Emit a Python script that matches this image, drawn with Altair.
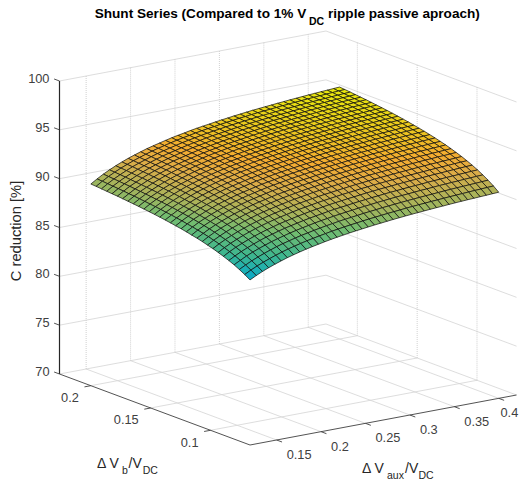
import altair as alt

VAUX = [0.120, 0.127, 0.134, 0.141, 0.148, 0.155, 0.162, 0.169, 0.176, 0.183, 0.190, 0.197, 0.204, 0.211,
        0.218, 0.225, 0.232, 0.239, 0.246, 0.253, 0.260, 0.267, 0.274, 0.281, 0.288, 0.295, 0.302, 0.309,
        0.316, 0.323, 0.330, 0.337, 0.344, 0.351, 0.358, 0.365, 0.372, 0.379, 0.386, 0.393, 0.400]
VB = [0.0670, 0.0714, 0.0759, 0.0803, 0.0847, 0.0892, 0.0936, 0.0980, 0.1025, 0.1069, 0.1113, 0.1158, 0.1202,
      0.1246, 0.1291, 0.1335, 0.1379, 0.1424, 0.1468, 0.1512, 0.1557, 0.1601, 0.1645, 0.1690, 0.1734, 0.1778,
      0.1823, 0.1867, 0.1911, 0.1956, 0.2000]
Z = [
    [86.90,87.23,87.53,87.79,88.03,88.25,88.46,88.64,88.81,88.97,89.11,89.24,89.37,89.49,89.60,89.70,89.80,89.89,89.97,90.05,90.13,90.20,90.27,90.34,90.40,90.46,90.52,90.57,90.62,90.67,90.72,90.76,90.81,90.85,90.89,90.93,90.96,91.00,91.03,91.07,91.10],
    [87.25,87.59,87.89,88.16,88.40,88.63,88.84,89.03,89.20,89.36,89.51,89.64,89.77,89.89,90.01,90.11,90.21,90.30,90.38,90.47,90.55,90.62,90.69,90.76,90.82,90.88,90.95,91.00,91.05,91.10,91.15,91.19,91.24,91.28,91.32,91.36,91.40,91.44,91.47,91.51,91.54],
    [87.56,87.90,88.21,88.48,88.73,88.96,89.18,89.37,89.54,89.71,89.86,89.99,90.13,90.25,90.37,90.47,90.58,90.67,90.75,90.83,90.92,90.99,91.06,91.14,91.20,91.26,91.32,91.38,91.43,91.48,91.53,91.57,91.62,91.67,91.71,91.75,91.78,91.82,91.85,91.89,91.93],
    [87.84,88.18,88.50,88.78,89.03,89.26,89.48,89.67,89.85,90.02,90.17,90.31,90.44,90.57,90.69,90.79,90.90,90.99,91.08,91.16,91.25,91.32,91.39,91.47,91.53,91.60,91.66,91.71,91.76,91.82,91.87,91.91,91.96,92.01,92.05,92.09,92.12,92.17,92.20,92.24,92.27],
    [88.08,88.43,88.75,89.03,89.29,89.53,89.75,89.94,90.13,90.30,90.45,90.59,90.73,90.86,90.97,91.08,91.19,91.29,91.37,91.45,91.54,91.62,91.69,91.77,91.83,91.90,91.96,92.01,92.07,92.12,92.17,92.21,92.27,92.31,92.35,92.40,92.43,92.47,92.51,92.55,92.58],
    [88.30,88.66,88.99,89.27,89.53,89.77,89.99,90.19,90.37,90.55,90.70,90.84,90.98,91.11,91.23,91.34,91.45,91.55,91.64,91.72,91.81,91.88,91.96,92.04,92.10,92.17,92.23,92.28,92.34,92.39,92.45,92.49,92.54,92.59,92.63,92.67,92.71,92.75,92.79,92.83,92.86],
    [88.50,88.86,89.19,89.48,89.75,89.99,90.21,90.41,90.60,90.77,90.93,91.07,91.21,91.35,91.46,91.57,91.69,91.78,91.87,91.96,92.05,92.12,92.20,92.28,92.34,92.41,92.47,92.53,92.58,92.64,92.69,92.74,92.79,92.83,92.88,92.92,92.96,93.00,93.04,93.08,93.11],
    [88.69,89.05,89.38,89.67,89.94,90.18,90.41,90.61,90.80,90.98,91.13,91.28,91.42,91.56,91.68,91.79,91.90,92.00,92.09,92.17,92.26,92.34,92.42,92.50,92.56,92.63,92.70,92.75,92.81,92.86,92.91,92.96,93.01,93.06,93.10,93.15,93.18,93.23,93.26,93.30,93.34],
    [88.85,89.22,89.55,89.85,90.12,90.36,90.59,90.79,90.99,91.17,91.32,91.47,91.61,91.75,91.87,91.98,92.09,92.20,92.29,92.37,92.46,92.54,92.62,92.70,92.76,92.83,92.90,92.95,93.01,93.06,93.12,93.16,93.22,93.26,93.31,93.36,93.39,93.44,93.47,93.51,93.55],
    [89.01,89.38,89.72,90.01,90.28,90.53,90.76,90.97,91.16,91.34,91.50,91.64,91.79,91.93,92.05,92.16,92.28,92.38,92.47,92.56,92.65,92.73,92.80,92.88,92.95,93.02,93.09,93.14,93.20,93.25,93.31,93.36,93.41,93.46,93.50,93.55,93.58,93.63,93.66,93.70,93.74],
    [89.15,89.52,89.86,90.16,90.43,90.68,90.92,91.12,91.31,91.50,91.66,91.80,91.95,92.09,92.21,92.32,92.44,92.54,92.64,92.72,92.81,92.90,92.97,93.05,93.12,93.19,93.26,93.31,93.37,93.43,93.48,93.53,93.58,93.63,93.68,93.72,93.76,93.80,93.84,93.88,93.92],
    [89.27,89.65,89.99,90.29,90.57,90.82,91.06,91.26,91.46,91.64,91.80,91.95,92.10,92.24,92.36,92.47,92.59,92.70,92.79,92.87,92.97,93.05,93.13,93.21,93.28,93.35,93.41,93.47,93.53,93.58,93.64,93.69,93.74,93.79,93.83,93.88,93.92,93.96,94.00,94.04,94.08],
    [89.40,89.77,90.12,90.42,90.70,90.95,91.19,91.40,91.59,91.78,91.94,92.09,92.24,92.38,92.50,92.61,92.73,92.84,92.93,93.02,93.11,93.19,93.27,93.35,93.42,93.49,93.56,93.62,93.67,93.73,93.79,93.83,93.89,93.94,93.98,94.03,94.07,94.11,94.15,94.19,94.23],
    [89.51,89.88,90.23,90.53,90.82,91.07,91.31,91.52,91.71,91.90,92.06,92.21,92.36,92.51,92.63,92.74,92.86,92.97,93.06,93.15,93.24,93.33,93.40,93.49,93.55,93.63,93.69,93.75,93.81,93.87,93.92,93.97,94.03,94.07,94.12,94.17,94.20,94.25,94.29,94.33,94.37],
    [89.61,89.99,90.34,90.65,90.93,91.18,91.42,91.63,91.83,92.02,92.18,92.33,92.49,92.63,92.75,92.87,92.99,93.09,93.19,93.27,93.37,93.45,93.53,93.61,93.68,93.76,93.82,93.88,93.94,94.00,94.05,94.10,94.16,94.20,94.25,94.30,94.34,94.38,94.42,94.46,94.50],
    [89.71,90.09,90.44,90.75,91.03,91.29,91.53,91.74,91.94,92.13,92.29,92.45,92.60,92.74,92.87,92.98,93.10,93.21,93.30,93.39,93.49,93.57,93.65,93.73,93.80,93.88,93.94,94.00,94.06,94.12,94.17,94.22,94.28,94.33,94.37,94.42,94.46,94.51,94.54,94.58,94.62],
    [89.80,90.18,90.54,90.84,91.13,91.39,91.63,91.84,92.04,92.23,92.40,92.55,92.70,92.85,92.97,93.09,93.21,93.32,93.41,93.50,93.59,93.68,93.76,93.84,93.91,93.99,94.05,94.11,94.17,94.23,94.28,94.33,94.39,94.44,94.49,94.53,94.57,94.62,94.66,94.70,94.73],
    [89.89,90.27,90.63,90.94,91.22,91.48,91.73,91.94,92.14,92.33,92.50,92.65,92.80,92.95,93.07,93.19,93.31,93.42,93.51,93.60,93.70,93.78,93.86,93.95,94.02,94.09,94.16,94.22,94.28,94.33,94.39,94.44,94.50,94.55,94.59,94.64,94.68,94.73,94.77,94.81,94.84],
    [89.97,90.35,90.71,91.02,91.31,91.57,91.81,92.02,92.23,92.42,92.58,92.74,92.89,93.04,93.16,93.28,93.41,93.51,93.61,93.70,93.79,93.88,93.96,94.04,94.11,94.19,94.26,94.31,94.37,94.43,94.49,94.54,94.60,94.64,94.69,94.74,94.78,94.83,94.86,94.90,94.94],
    [90.04,90.43,90.79,91.10,91.39,91.65,91.90,92.11,92.31,92.51,92.67,92.83,92.98,93.13,93.25,93.37,93.49,93.60,93.70,93.79,93.88,93.97,94.05,94.14,94.20,94.28,94.35,94.41,94.47,94.52,94.58,94.63,94.69,94.74,94.79,94.83,94.87,94.92,94.96,95.00,95.04],
    [90.11,90.50,90.86,91.17,91.47,91.73,91.97,92.19,92.39,92.59,92.75,92.91,93.06,93.21,93.34,93.45,93.58,93.69,93.78,93.87,93.97,94.06,94.13,94.22,94.29,94.37,94.44,94.49,94.55,94.61,94.67,94.72,94.78,94.83,94.87,94.92,94.96,95.01,95.05,95.09,95.13],
    [90.18,90.57,90.93,91.24,91.54,91.80,92.04,92.26,92.46,92.66,92.82,92.98,93.14,93.28,93.41,93.53,93.65,93.76,93.86,93.95,94.05,94.13,94.21,94.30,94.37,94.45,94.51,94.57,94.63,94.69,94.75,94.80,94.86,94.91,94.95,95.00,95.04,95.09,95.13,95.17,95.21],
    [90.24,90.63,91.00,91.31,91.60,91.87,92.11,92.33,92.54,92.73,92.90,93.05,93.21,93.36,93.49,93.60,93.73,93.84,93.94,94.02,94.12,94.21,94.29,94.38,94.45,94.52,94.59,94.65,94.71,94.77,94.83,94.88,94.94,94.99,95.03,95.08,95.12,95.17,95.21,95.25,95.29],
    [90.30,90.70,91.06,91.37,91.67,91.93,92.18,92.40,92.60,92.80,92.97,93.12,93.28,93.43,93.56,93.67,93.80,93.91,94.01,94.10,94.19,94.28,94.36,94.45,94.52,94.60,94.67,94.73,94.78,94.84,94.90,94.95,95.01,95.06,95.11,95.16,95.20,95.25,95.29,95.33,95.36],
    [90.36,90.75,91.12,91.43,91.73,91.99,92.24,92.46,92.67,92.86,93.03,93.19,93.35,93.49,93.62,93.74,93.87,93.98,94.07,94.16,94.26,94.35,94.43,94.52,94.59,94.67,94.74,94.79,94.85,94.91,94.97,95.02,95.08,95.13,95.18,95.23,95.27,95.32,95.36,95.40,95.44],
    [90.42,90.81,91.18,91.49,91.79,92.06,92.30,92.52,92.73,92.93,93.09,93.25,93.41,93.56,93.69,93.81,93.93,94.04,94.14,94.23,94.33,94.42,94.50,94.59,94.66,94.74,94.80,94.86,94.92,94.98,95.04,95.09,95.15,95.20,95.25,95.30,95.34,95.39,95.43,95.47,95.51],
    [90.46,90.86,91.23,91.54,91.84,92.11,92.36,92.58,92.78,92.98,93.15,93.31,93.47,93.62,93.74,93.86,93.99,94.10,94.20,94.29,94.39,94.48,94.56,94.65,94.72,94.79,94.86,94.92,94.98,95.04,95.10,95.15,95.21,95.26,95.31,95.36,95.40,95.45,95.49,95.53,95.57],
    [90.51,90.91,91.28,91.60,91.89,92.16,92.41,92.63,92.84,93.04,93.21,93.36,93.52,93.67,93.80,93.92,94.05,94.16,94.26,94.35,94.45,94.54,94.62,94.71,94.78,94.85,94.92,94.98,95.04,95.10,95.16,95.21,95.27,95.32,95.37,95.42,95.46,95.51,95.55,95.59,95.63],
    [90.56,90.96,91.33,91.65,91.95,92.22,92.46,92.68,92.89,93.09,93.26,93.42,93.58,93.73,93.86,93.98,94.11,94.22,94.32,94.41,94.51,94.60,94.68,94.76,94.83,94.91,94.98,95.04,95.10,95.16,95.22,95.27,95.33,95.38,95.43,95.48,95.52,95.57,95.61,95.65,95.69],
    [90.61,91.01,91.38,91.70,92.00,92.26,92.51,92.73,92.94,93.14,93.31,93.47,93.63,93.78,93.91,94.03,94.16,94.27,94.37,94.46,94.56,94.65,94.73,94.82,94.89,94.97,95.04,95.10,95.16,95.22,95.28,95.33,95.39,95.44,95.49,95.54,95.58,95.63,95.67,95.71,95.75],
    [90.65,91.05,91.42,91.74,92.04,92.31,92.56,92.78,92.99,93.19,93.36,93.52,93.68,93.83,93.96,94.08,94.21,94.32,94.42,94.51,94.61,94.70,94.78,94.87,94.94,95.02,95.09,95.15,95.21,95.27,95.33,95.38,95.44,95.49,95.54,95.59,95.63,95.68,95.72,95.76,95.80],
]

VAUX_TICKS = [0.15, 0.2, 0.25, 0.3, 0.35, 0.4]
VB_TICKS = [0.1, 0.15, 0.2]
Z_TICKS = [70, 75, 80, 85, 90, 95, 100]
XLIM = (0.12, 0.42)
YLIM = (0.067, 0.2262)
ZLIM = (70, 100)


def proj(a, b, c):
    u = (a - XLIM[0]) / (XLIM[1] - XLIM[0])
    v = (b - YLIM[0]) / (YLIM[1] - YLIM[0])
    w = (c - ZLIM[0]) / (ZLIM[1] - ZLIM[0])
    return [250 + 266.5 * u - 190.5 * v - 8, 445 - 50 * u - 71 * v - 293 * w - 8]


def lines(segs):
    return alt.InlineData(
        values={"type": "FeatureCollection", "features": [
            {"type": "Feature", "properties": {}, "geometry": {"type": "LineString", "coordinates": s}}
            for s in segs]},
        format=alt.DataFormat(property="features", type="json"))


x0, x1 = XLIM
y0, y1 = YLIM
z0, z1 = ZLIM
grid_v = []
grid_s = []
for t in VAUX_TICKS:
    grid_v.append([proj(t, y1, z0), proj(t, y1, z1)])
    grid_s.append([proj(t, y0, z0), proj(t, y1, z0)])
for t in VB_TICKS:
    grid_v.append([proj(x1, t, z0), proj(x1, t, z1)])
    grid_s.append([proj(x0, t, z0), proj(x1, t, z0)])
for t in Z_TICKS:
    grid_s.append([proj(x0, y1, t), proj(x1, y1, t), proj(x1, y0, t)])

axes = [[proj(x0, y1, z0), proj(x0, y1, z1)],
        [proj(x0, y1, z0), proj(x0, y0, z0)],
        [proj(x0, y0, z0), proj(x1, y0, z0)]]
dv = 0.0045
du = 0.0072
ticks = []
for t in Z_TICKS:
    ticks.append([proj(x0, y1, t), proj(x0, y1 + dv, t)])
for t in VB_TICKS:
    ticks.append([proj(x0, t, z0), proj(x0 - du, t, z0)])
for t in VAUX_TICKS:
    ticks.append([proj(t, y0, z0), proj(t, y0 - dv, z0)])

cells = []
for j in range(len(VB) - 2, -1, -1):
    for i in range(len(VAUX) - 2, -1, -1):
        ring = [proj(VAUX[i], VB[j], Z[j][i]), proj(VAUX[i + 1], VB[j], Z[j][i + 1]),
                proj(VAUX[i + 1], VB[j + 1], Z[j + 1][i + 1]), proj(VAUX[i], VB[j + 1], Z[j + 1][i])]
        ring.append(ring[0])
        mz = (Z[j][i] + Z[j][i + 1] + Z[j + 1][i] + Z[j + 1][i + 1]) / 4
        cells.append({"type": "Feature", "properties": {"z": round(mz, 2)},
                      "geometry": {"type": "Polygon", "coordinates": [[[round(p[0], 2), round(p[1], 2)] for p in ring]]}})

surf = alt.Chart(alt.InlineData(values={"type": "FeatureCollection", "features": cells},
                                format=alt.DataFormat(property="features", type="json"))
                 ).mark_geoshape(stroke="#0a0a0a", strokeWidth=0.7).encode(
    color=alt.Color("properties.z:Q", legend=None, scale=alt.Scale(
        domain=[87.0, 87.6, 88.5, 90, 91, 92.5, 93.5, 94.5, 95.6],
        range=["#08a8c8", "#1cb0b4", "#3cb690", "#72bc70", "#a4b45c",
               "#dcac48", "#f4ac30", "#ecc420", "#e8e410"], interpolate="rgb")))

grid_sl = alt.Chart(lines(grid_s)).mark_geoshape(filled=False, stroke="#d4d4d4", strokeWidth=0.8)
grid_vl = alt.Chart(lines(grid_v)).mark_geoshape(filled=False, stroke="#cccccc", strokeWidth=0.9, strokeDash=[1, 1])
axes_l = alt.Chart(lines(axes[1:] + ticks)).mark_geoshape(filled=False, stroke="#404040", strokeWidth=0.9)
zaxis_l = alt.Chart(lines(axes[:1])).mark_geoshape(filled=False, stroke="#262626", strokeWidth=1.2)


def text(rows, **kw):
    kw.setdefault("font", "Liberation Sans")
    return alt.Chart(alt.Data(values=rows)).mark_text(**kw).encode(
        x=alt.X("x:Q", scale=None, axis=None), y=alt.Y("y:Q", scale=None, axis=None), text="t:N")


def P(t, x, y):
    return {"t": t, "x": x - 8, "y": y - 8}


zlab = [P(str(t), proj(x0, y1, t)[0] + 8 - 10, proj(x0, y1, t)[1] + 8 - 2) for t in Z_TICKS]
vblab = [P(str(t), proj(x0, t, z0)[0] + 8 - 12, proj(x0, t, z0)[1] + 8 + 12.5) for t in VB_TICKS]
vxlab = [P(str(t), min(proj(t, y0, z0)[0] + 8 + 10, 500.5), proj(t, y0, z0)[1] + 8 + 15) for t in VAUX_TICKS]
TC = "#404040"

layers = [
    grid_sl, grid_vl, zaxis_l, axes_l, surf,
    text(zlab, fontSize=12.8, color=TC, align="right", baseline="middle"),
    text(vblab, fontSize=12.8, color=TC, align="right", baseline="middle"),
    text(vxlab, fontSize=12.8, color=TC, align="left", baseline="middle"),
    text([P("Shunt Series (Compared to 1% V", 94.7, 18), P("ripple passive aproach)", 328, 18)],
         fontSize=13.6, fontWeight="bold", color="#000000", align="left", baseline="alphabetic"),
    text([P("DC", 309, 25)], fontSize=10.5, fontWeight="bold", color="#000000", align="left", baseline="alphabetic"),
    text([P("C reduction [%]", 17, 231)], fontSize=14.7, color="#262626", align="center", baseline="middle", angle=270),
    text([P("Δ V", 97, 468), P("/V", 128.5, 468), P("Δ V", 362, 473), P("/V", 405, 473)],
         fontSize=14, color="#262626", align="left", baseline="alphabetic"),
    text([P("b", 122, 474), P("DC", 142.7, 474), P("aux", 387, 479), P("DC", 418.5, 479)],
         fontSize=10.5, color="#262626", align="left", baseline="alphabetic"),
]

chart = alt.layer(*layers).project(type="identity", scale=1, translate=[0, 0]).properties(
    width=511, height=476, padding=0, autosize=alt.AutoSizeParams(type="none"), background="#ffffff"
).configure_view(stroke=None)

chart.save("out.html", embed_options={"renderer": "svg", "actions": False})
